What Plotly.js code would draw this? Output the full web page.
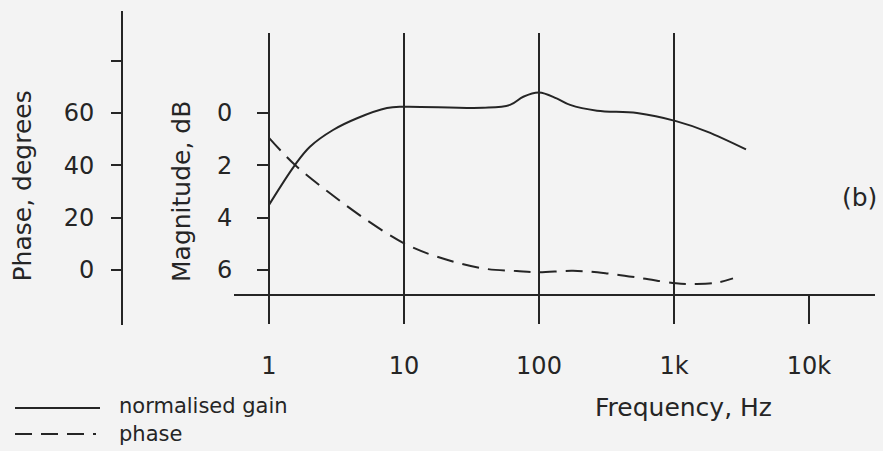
<!DOCTYPE html>
<html>
<head>
<meta charset="utf-8">
<script src="https://cdn.plot.ly/plotly-3.0.1.min.js"></script>
<style>
  html, body { margin: 0; padding: 0; background: #f3f3f3; }
  #chart { width: 883px; height: 451px; }
</style>
</head>
<body>
<div id="chart"></div>
<script>
// ---- data ----
const gainFreq = [1, 1.56, 2.01, 2.98, 4.49, 7.48, 10, 38.5, 61, 76.5, 100, 135, 170, 269, 532, 1035, 1755, 3414];
const gainDb   = [3.51, 1.98, 1.29, 0.65, 0.2, -0.19, -0.24, -0.2, -0.31, -0.62, -0.78, -0.56, -0.31, -0.09, 0.0, 0.31, 0.71, 1.39];

const phaseFreq = [1, 1.56, 2.83, 5.29, 10, 17.5, 38.5, 68.4, 100, 178.6, 317, 589, 1035, 1472, 2071, 2735];
const phaseDeg  = [50.5, 40.1, 29.3, 19.1, 10.2, 5.1, 0.6, -0.4, -0.9, -0.3, -1.3, -3.2, -5.1, -5.35, -4.85, -3.2];

const freqTicks = [1, 10, 100, 1000, 10000];
const freqTickText = ['1', '10', '100', '1k', '10k'];
const gridFreqs = [1, 10, 100, 1000];
const magTicks = [0, 2, 4, 6];
const magTickText = ['0', '2', '4', '6'];
const phaseTicks = [0, 20, 40, 60, 80];
const phaseTickText = ['0', '20', '40', '60', ''];

// ---- layout helpers (pixel -> paper) ----
const W = 883, H = 451;
const px = v => v / W;
const py = v => 1 - v / H;

const ink = '#252525';
const fontFam = 'DejaVu Sans, Liberation Sans, sans-serif';

const traces = [
  {
    x: gainFreq, y: gainDb, xaxis: 'x', yaxis: 'y',
    type: 'scatter', mode: 'lines', name: 'normalised gain',
    line: { color: ink, width: 2, shape: 'spline', smoothing: 1 },
    hoverinfo: 'skip', showlegend: false
  },
  {
    x: phaseFreq, y: phaseDeg, xaxis: 'x2', yaxis: 'y2',
    type: 'scatter', mode: 'lines', name: 'phase',
    line: { color: ink, width: 2, dash: '17px,9px', shape: 'spline', smoothing: 1 },
    hoverinfo: 'skip', showlegend: false
  }
];

const xRange = [Math.log10(1) - 35 / 135, Math.log10(1) + 606 / 135];
const xDomain = [px(234), px(875)];

const layout = {
  width: W, height: H,
  margin: { l: 0, r: 0, t: 0, b: 0 },
  paper_bgcolor: '#f3f3f3',
  plot_bgcolor: 'rgba(0,0,0,0)',
  showlegend: false,
  font: { family: fontFam, color: ink, size: 24 },
  xaxis: {
    type: 'log', range: xRange, domain: xDomain, anchor: 'y',
    tickvals: gridFreqs, showticklabels: false, ticks: '',
    showgrid: true, gridcolor: ink, gridwidth: 2,
    showline: false, zeroline: false, automargin: false
  },
  xaxis2: {
    type: 'log', range: xRange, domain: xDomain, anchor: 'free', position: py(295),
    tickvals: freqTicks, ticktext: freqTickText,
    ticks: 'outside', ticklen: 28, tickwidth: 2, tickcolor: ink,
    showline: true, linecolor: ink, linewidth: 2,
    showgrid: false, zeroline: false, automargin: false,
    ticklabelstandoff: 21,
    tickfont: { family: fontFam, size: 24, color: ink }
  },
  yaxis: {
    domain: [py(323), py(33)],
    range: [(323 - 113) / 26.17, (33 - 113) / 26.17],
    anchor: 'free', position: px(269),
    tickvals: magTicks, ticktext: magTickText,
    ticks: 'outside', ticklen: 11, tickwidth: 2, tickcolor: ink,
    showline: true, linecolor: ink, linewidth: 2,
    showgrid: false, zeroline: false, automargin: false,
    ticklabelstandoff: 20,
    tickfont: { family: fontFam, size: 24, color: ink }
  },
  yaxis2: {
    domain: [py(325), py(10.7)],
    range: [(270 - 325) / 2.617, (270 - 10.7) / 2.617],
    anchor: 'free', position: px(122),
    tickvals: phaseTicks, ticktext: phaseTickText,
    ticks: 'outside', ticklen: 10, tickwidth: 2, tickcolor: ink,
    showline: true, linecolor: ink, linewidth: 2,
    showgrid: false, zeroline: false, automargin: false,
    ticklabelstandoff: 12,
    tickfont: { family: fontFam, size: 24, color: ink }
  },
  annotations: [
    { text: 'Phase, degrees', textangle: -90, xref: 'paper', yref: 'paper',
      x: px(22.5), y: py(186), xanchor: 'center', yanchor: 'middle', showarrow: false,
      font: { family: fontFam, size: 25, color: ink } },
    { text: 'Magnitude, dB', textangle: -90, xref: 'paper', yref: 'paper',
      x: px(181), y: py(192), xanchor: 'center', yanchor: 'middle', showarrow: false,
      font: { family: fontFam, size: 25, color: ink } },
    { text: 'Frequency, Hz', xref: 'paper', yref: 'paper',
      x: px(683), y: py(407), xanchor: 'center', yanchor: 'middle', showarrow: false,
      font: { family: fontFam, size: 25, color: ink } },
    { text: '(b)', xref: 'paper', yref: 'paper',
      x: px(859), y: py(197.5), xanchor: 'center', yanchor: 'middle', showarrow: false,
      font: { family: fontFam, size: 25, color: ink } },
    { text: 'normalised gain', xref: 'paper', yref: 'paper',
      x: px(117), y: py(405.5), xanchor: 'left', yanchor: 'middle', showarrow: false,
      font: { family: fontFam, size: 21, color: ink } },
    { text: 'phase', xref: 'paper', yref: 'paper',
      x: px(117), y: py(434), xanchor: 'left', yanchor: 'middle', showarrow: false,
      font: { family: fontFam, size: 21, color: ink } }
  ],
  shapes: [
    { type: 'line', xref: 'paper', yref: 'paper',
      x0: px(15), x1: px(100), y0: py(408), y1: py(408),
      line: { color: ink, width: 2 } },
    { type: 'line', xref: 'paper', yref: 'paper',
      x0: px(15), x1: px(96), y0: py(434), y1: py(434),
      line: { color: ink, width: 2, dash: '17px,9px,17px,9px,17px,9px,3px' } }
  ]
};

Plotly.newPlot('chart', traces, layout, { staticPlot: true, displayModeBar: false });
</script>
</body>
</html>
